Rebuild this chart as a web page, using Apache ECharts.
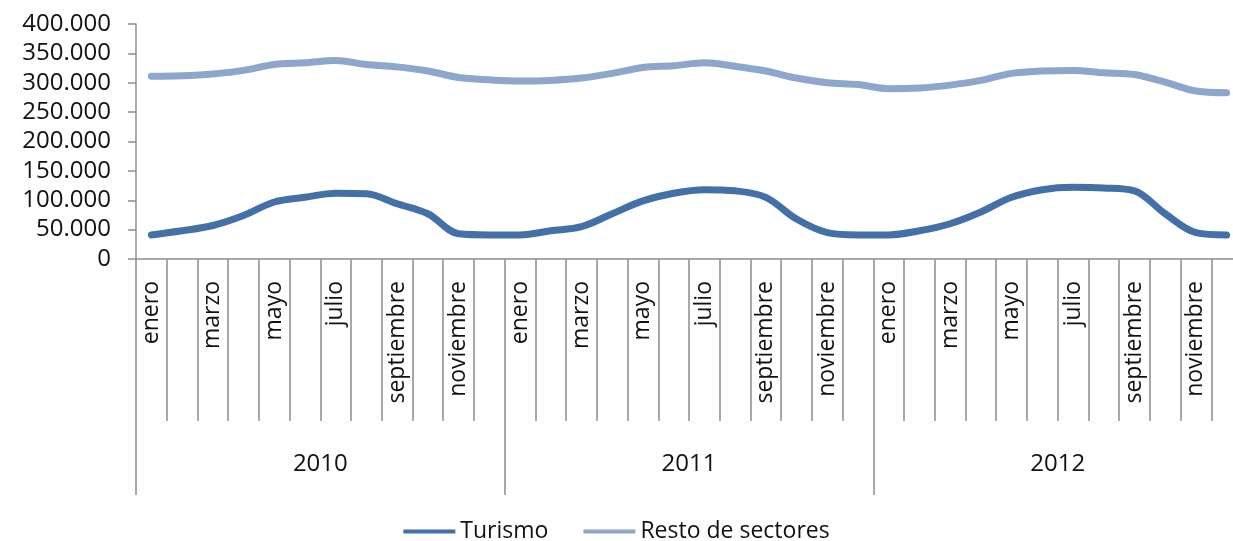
<!DOCTYPE html>
<html>
<head>
<meta charset="utf-8">
<script src="https://cdn.jsdelivr.net/npm/echarts@6/dist/echarts.min.js"></script>
<style>html,body{margin:0;padding:0;background:#fff;}#c{width:1233px;height:541px;}</style>
</head>
<body>
<div id="c"></div>
<script>
const years = ['2010', '2011', '2012'];
const months = ['enero','febrero','marzo','abril','mayo','junio','julio','agosto','septiembre','octubre','noviembre','diciembre'];
const turismo = [
  41000, 48000, 57000, 74000, 97000, 105000, 112000, 111000, 94000, 77000, 43000, 41000,
  41000, 48000, 55000, 77000, 99000, 112000, 118000, 116000, 105000, 68000, 45000, 41000,
  41000, 48000, 60000, 80000, 105000, 118000, 122000, 121000, 116000, 77000, 45000, 41000
];
const resto = [
  311000, 312000, 315000, 321000, 331000, 334000, 338000, 331000, 327000, 320000, 309000, 305000,
  303000, 304000, 308000, 316000, 326000, 329000, 334000, 328000, 320000, 308000, 300000, 297000,
  290000, 291000, 296000, 304000, 316000, 320000, 321000, 317000, 314000, 301000, 286000, 283000
];
const yTicks = { min: 0, max: 400000, interval: 50000 };

const cats = [];
years.forEach(y => months.forEach(m => cats.push(y + '|' + m)));

const fontFam = '"Open Sans", "Noto Sans", sans-serif';
const chart = echarts.init(document.getElementById('c'), null, { renderer: 'canvas' });
chart.setOption({
  animation: false,
  backgroundColor: '#ffffff',
  grid: { left: 136, top: 24, height: 235, width: 1106, outerBoundsMode: 'none', containLabel: false },
  legend: {
    top: 515,
    left: 'center',
    icon: 'rect',
    itemWidth: 52,
    itemHeight: 4,
    itemGap: 35,
    textStyle: { fontFamily: fontFam, fontSize: 23, color: '#111' },
    data: ['Turismo', 'Resto de sectores']
  },
  xAxis: [
    {
      type: 'category',
      data: cats,
      boundaryGap: true,
      position: 'bottom',
      axisLine: { show: true, lineStyle: { color: '#8c8c8c', width: 1.5 } },
      axisTick: { show: true, interval: 0, length: 162, lineStyle: { color: '#8c8c8c', width: 1.5 } },
      axisLabel: {
        interval: 1,
        rotate: 90,
        margin: 22,
        fontFamily: fontFam,
        fontSize: 23,
        color: '#111',
        formatter: v => v.split('|')[1]
      }
    },
    {
      type: 'category',
      data: years,
      boundaryGap: true,
      position: 'bottom',
      offset: 0,
      axisLine: { show: false },
      axisTick: { show: true, interval: 0, length: 236, lineStyle: { color: '#8c8c8c', width: 1.5 } },
      axisLabel: { interval: 0, margin: 193, fontFamily: fontFam, fontSize: 24, color: '#111' }
    }
  ],
  yAxis: {
    type: 'value',
    min: yTicks.min,
    max: yTicks.max,
    interval: yTicks.interval,
    splitLine: { show: false },
    axisLine: { show: true, lineStyle: { color: '#8c8c8c', width: 1.5 } },
    axisTick: { show: true, length: 8, lineStyle: { color: '#8c8c8c', width: 1.5 } },
    axisLabel: {
      margin: 25,
      fontFamily: fontFam,
      fontSize: 24,
      color: '#111',
      formatter: v => v === 0 ? '0' : (v / 1000).toFixed(0) + '.000'
    }
  },
  series: [
    {
      name: 'Turismo',
      type: 'line',
      xAxisIndex: 0,
      data: turismo,
      smooth: 0.35,
      symbol: 'none',
      lineStyle: { width: 7, color: '#4470a8', cap: 'round' },
      itemStyle: { color: '#4470a8' }
    },
    {
      name: 'Resto de sectores',
      type: 'line',
      xAxisIndex: 0,
      data: resto,
      smooth: 0.35,
      symbol: 'none',
      lineStyle: { width: 7, color: '#8ca6cc', cap: 'round' },
      itemStyle: { color: '#8ca6cc' }
    }
  ]
});
</script>
</body>
</html>
